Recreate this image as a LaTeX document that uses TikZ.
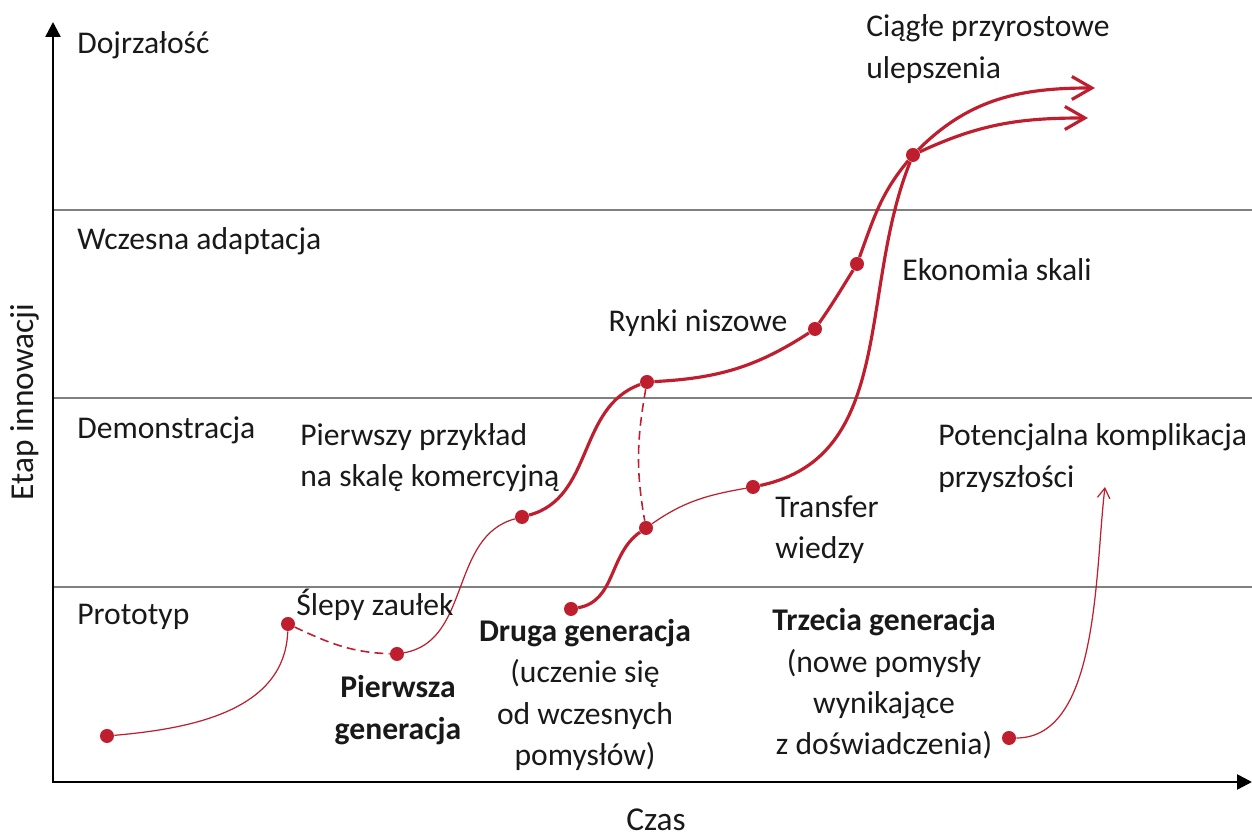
\documentclass[tikz,border=0pt]{standalone}
\usepackage{fontspec}
\setmainfont{Carlito}
\usepackage{xcolor}
\usepackage{tikz}
\usetikzlibrary{arrows.meta}

\definecolor{innored}{RGB}{190,30,45}
\definecolor{inktext}{RGB}{25,25,25}
\definecolor{stageline}{RGB}{128,128,128}

\tikzset{
    dot/.style={circle,fill=innored,inner sep=0pt,minimum size=0.28cm},
    strong/.style={draw=innored,line width=1.8pt},
    weak/.style={draw=innored,line width=0.7pt},
    deadend/.style={draw=innored,line width=0.9pt,dash pattern=on 5pt off 3pt},
    txt/.style={text=inktext,inner sep=0pt,font=\fontsize{18}{23.5}\selectfont},
}

\begin{document}
\begin{tikzpicture}[x=0.02cm,y=0.02cm]
    \useasboundingbox (0,0) rectangle (1252,837);
    % stages
    \draw[stageline,line width=0.8pt] (53,250) -- (1252,250);
    \draw[stageline,line width=0.8pt] (53,439) -- (1252,439);
    \draw[stageline,line width=0.8pt] (53,627) -- (1252,627);
    % axes
    \coordinate (ytop) at (53,815);
    \coordinate (origin) at (53,55);
    \coordinate (xend) at (1252,55);
    \draw[line width=1.4pt,{Triangle[length=0.3cm,width=0.3cm]}-{Triangle[length=0.3cm,width=0.3cm]}] (ytop) -- (origin) -- (xend);

    \node[txt,anchor=west] (s4) at (77,792) {Dojrzałość};
    \node[txt,anchor=west] (s3) at (77,596) {Wczesna adaptacja};
    \node[txt,anchor=west] (s2) at (77,407) {Demonstracja};
    \node[txt,anchor=west] (s1) at (77,220) {Prototyp};
    \node[txt,rotate=90,anchor=base,font=\fontsize{19}{23}\selectfont] (yl) at (33,435) {Etap innowacji};
    \node[txt,anchor=base,font=\fontsize{19}{23}\selectfont] (xl) at (656,6) {Czas};

    \node[dot] (1) at (107,101) {};
    \node[dot] (2) at (288,213) {};
    \node[dot] (3) at (397,183) {};
    \node[dot] (4) at (522,320) {};
    \node[dot] (5) at (647,455) {};
    \node[dot] (6) at (815,508) {};
    \node[dot] (7) at (857,573) {};
    \node[dot] (8) at (913,682) {};
    \node[dot] (9) at (571,228) {};
    \node[dot] (10) at (646,309) {};
    \node[dot] (11) at (753,350) {};
    \node[dot] (12) at (1009,99) {};
    \coordinate (13) at (1095,749);
    \coordinate (14) at (1088,719);
    \coordinate (15) at (1105,350);

    % first generation
    \draw[weak] (1) to [out=5,in=-92] (2);
    \draw[deadend] (2) to [out=-25,in=178] (3);
    \draw[weak] (3) to [out=10,in=195] (4);
    \draw[strong] (4) to [out=15,in=200] (5);
    \draw[strong] (5) to [out=3,in=213] (6);
    \draw[strong] (6) to [out=55,in=-122] (7);
    \draw[strong] (7) to [out=70,in=-130] (8);
    \draw[strong,-{Straight Barb[length=0.4cm,width=0.46cm]}] (8) to [out=45,in=180] (13);
    \draw[strong,-{Straight Barb[length=0.4cm,width=0.46cm]}] (8) to [out=25,in=180] (14);
    % second generation
    \draw[deadend] (5) to [out=-100,in=100] (10);
    \draw[strong] (9) to [out=10,in=215] (10);
    \draw[weak] (10) to [out=35,in=190] (11);
    \draw[strong] (11) to [out=12,in=-112] (8);
    % third generation
    \draw[weak,-{Straight Barb[length=0.2cm,width=0.25cm]}] (12) to [out=0,in=-97,looseness=0.8] (15);

    \node[txt,anchor=west,align=left] (ciagle) at (866,788) {Ciągłe przyrostowe\\ulepszenia};
    \node[txt,anchor=west] (skala) at (902,567) {Ekonomia skali};
    \node[txt] (nisza) at (698,514) {Rynki niszowe};
    \node[txt,anchor=west,align=left] (przyklad) at (300,379) {Pierwszy przykład\\na skalę komercyjną};
    \node[txt,anchor=west,align=left] (transfer) at (775,307) {Transfer\\wiedzy};
    \node[txt,anchor=west,align=left] (kompl) at (938,379) {Potencjalna komplikacja\\przyszłości};
    \node[txt] (slepy) at (375,232) {Ślepy zaułek};
    \node[txt,align=center] (gen1) at (398,127) {\textbf{Pierwsza}\\\textbf{generacja}};
    \node[txt,align=center] (gen2) at (585,142) {\textbf{Druga generacja}\\(uczenie się\\od wczesnych\\pomysłów)};
    \node[txt,align=center] (gen3) at (884,153) {\textbf{Trzecia generacja}\\(nowe pomysły\\wynikające\\z doświadczenia)};
\end{tikzpicture}
\end{document}
